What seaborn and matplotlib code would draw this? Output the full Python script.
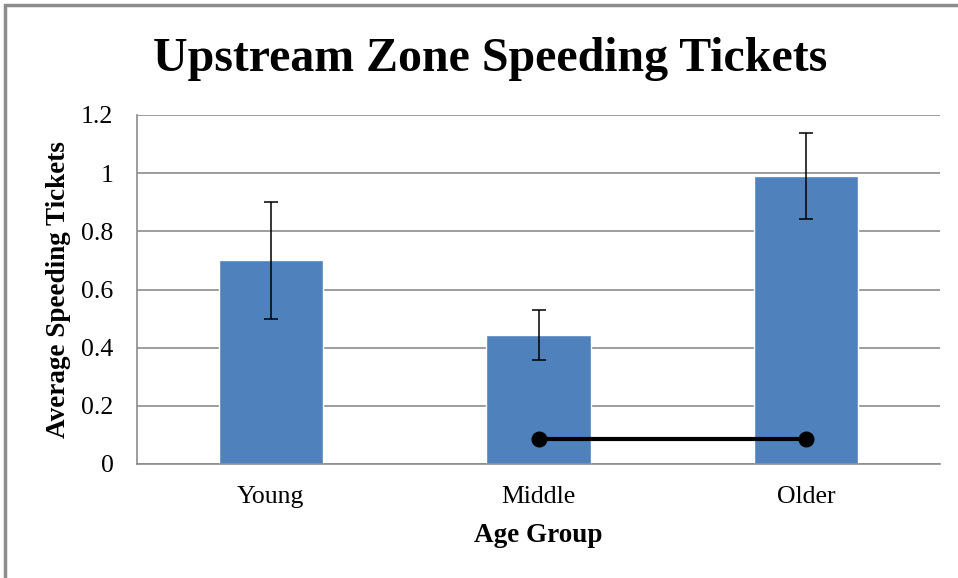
import matplotlib
matplotlib.use("Agg")
import matplotlib.pyplot as plt
import seaborn as sns
import pandas as pd
from matplotlib.patches import Rectangle

# chart values
age_groups = ["Young", "Middle", "Older"]
avg_tickets = [0.70, 0.445, 0.99]
error_sizes = [0.20, 0.086, 0.147]
sig_groups = ["Middle", "Older"]
sig_level = [0.086, 0.086]
y_ticks = [0, 0.2, 0.4, 0.6, 0.8, 1, 1.2]
y_tick_labels = ["0", "0.2", "0.4", "0.6", "0.8", "1", "1.2"]

sns.set_style("white")
plt.rcParams["font.family"] = ["Liberation Serif", "DejaVu Serif"]
plt.rcParams["text.color"] = "black"
plt.rcParams["axes.labelcolor"] = "black"
plt.rcParams["xtick.labelcolor"] = "black"
plt.rcParams["ytick.labelcolor"] = "black"

df = pd.DataFrame({"group": age_groups, "tickets": avg_tickets})

fig = plt.figure(figsize=(9.58, 5.78), dpi=100)
ax = fig.add_axes([137 / 958, 1 - 464 / 578, (940 - 137) / 958, (464 - 115) / 578])

sns.barplot(data=df, x="group", y="tickets", color="#4F81BD", saturation=1,
            width=0.39, ax=ax, zorder=2)
ax.errorbar(range(len(age_groups)), avg_tickets, yerr=error_sizes, fmt="none",
            ecolor="black", elinewidth=1.1, capsize=5, capthick=1.1, zorder=3)

sig_x = [age_groups.index(g) for g in sig_groups]
ax.plot(sig_x, sig_level, color="black", lw=3, marker="o", ms=10.5, zorder=4)

ax.set_xlim(-0.5, 2.5)
ax.set_ylim(0, 1.2)
ax.set_yticks(y_ticks)
ax.set_yticklabels(y_tick_labels)
ax.yaxis.grid(True, color="#8c8c8c", lw=1.2, zorder=0)
ax.set_axisbelow(True)

ax.set_xticks([-0.5, 0.5, 1.5, 2.5], minor=True)
ax.tick_params(axis="x", which="major", length=0, labelsize=18.5, pad=16)
ax.tick_params(axis="x", which="minor", length=7, color="#8c8c8c", width=1.2)
ax.tick_params(axis="y", length=6, color="#8c8c8c", width=1.2, labelsize=18.5, pad=11)

for s in ["top", "right"]:
    ax.spines[s].set_visible(False)
for s in ["left", "bottom"]:
    ax.spines[s].set_color("#8c8c8c")
    ax.spines[s].set_linewidth(1.2)

ax.set_xlabel("Age Group", fontsize=19.5, fontweight="bold", labelpad=11)
ax.set_ylabel("Average Speeding Tickets", fontsize=19.5, fontweight="bold", labelpad=7)
fig.text(490 / 958, 1 - 59 / 578, "Upstream Zone Speeding Tickets", ha="center",
         va="center", fontsize=34.5, fontweight="bold")

# outer chart border, only top and left visible in the reference
fig.add_artist(Rectangle((5 / 958, -0.05), 1.1, 1 - 5 / 578 + 0.05, transform=fig.transFigure,
                         fill=False, edgecolor="#8c8c8c", lw=2.5))

fig.savefig("out.png", dpi=100)
